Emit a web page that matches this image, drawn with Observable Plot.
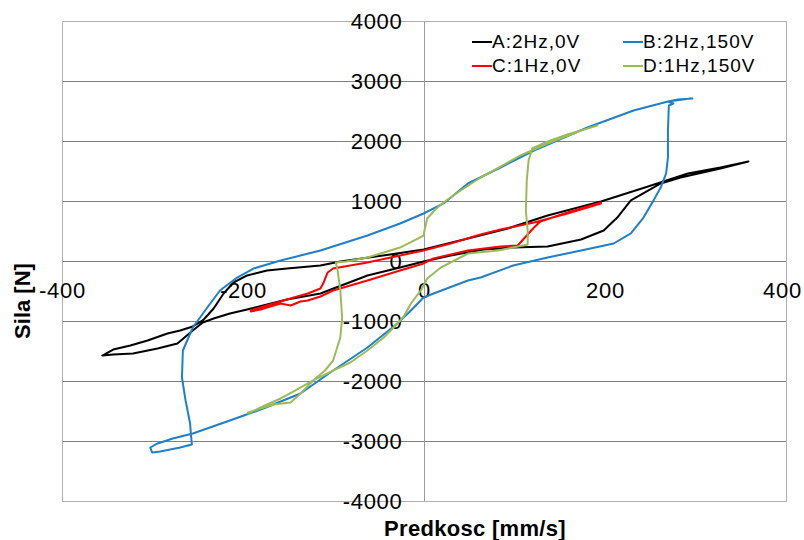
<!DOCTYPE html>
<html>
<head>
<meta charset="utf-8">
<script src="https://cdn.jsdelivr.net/npm/d3@7"></script>
<script src="https://cdn.jsdelivr.net/npm/@observablehq/plot@0.6"></script>
<style>
  html, body { margin: 0; padding: 0; background: #fff; }
  #wrap { position: relative; width: 804px; height: 540px; font-family: "Liberation Sans", Arial, sans-serif; }
  #wrap svg { position: absolute; left: 0; top: 0; }
  .ytitle { position: absolute; left: 23px; top: 301px; transform: translate(-50%, -50%) rotate(-90deg); font-weight: bold; font-size: 22px; white-space: nowrap; color: #000; }
  .xtitle { position: absolute; left: 475px; top: 529px; transform: translate(-50%, -50%); font-weight: bold; font-size: 22px; white-space: nowrap; color: #000; letter-spacing: 0.3px; }
  .legend { position: absolute; left: 472px; top: 31px; font-size: 19px; letter-spacing: 1px; color: #000; display: grid; grid-template-columns: 151px 140px; row-gap: 2px; }
  .legend span { display: flex; align-items: center; height: 22px; white-space: nowrap; }
  .legend i { display: inline-block; width: 20px; height: 2px; margin-right: 0px; }
</style>
</head>
<body>
<div id="wrap"></div>
<script>
// Tick values
const xTicks = [-400, -200, 0, 200];
const xTickLast = [400];
const yTicks = [-4000, -3000, -2000, -1000, 0, 1000, 2000, 3000, 4000];

// Series names and colours
const seriesNames = ["A:2Hz,0V", "B:2Hz,150V", "C:1Hz,0V", "D:1Hz,150V"];
const seriesColors = ["#000000", "#1f80c8", "#ff0000", "#9bbb59"];

// A:2Hz,0V  (velocity mm/s, force N)
const aX = [-356,-344,-325,-306,-284,-270,-256,-245,-233,-222,-211,-196,-174,-152,-115,-93,-38,-1,48,92,136,195,247,291,327,358,
            327,283,261,247,228,213,198,173,136,98,65,29,-1,-27,-63,-115,-152,-174,-196,-215,-233,-245,-256,-273,-295,-322,-344,-356];
const aY = [-1567,-1467,-1400,-1317,-1200,-1150,-1083,-983,-783,-533,-350,-233,-150,-117,-67,0,117,200,383,550,767,1000,1250,1467,1567,1667,
            1550,1400,1300,1183,1017,733,517,367,250,233,200,100,0,-100,-233,-533,-633,-717,-800,-867,-950,-1017,-1150,-1367,-1450,-1533,-1550,-1567];

// B:2Hz,150V
const bX = [296,280,269,275,270,269,269,267,261,253,242,228,209,173,136,98,62,48,10,-1,-15,-30,-63,-101,-137,-178,-215,-256,-278,-295,-303,-301,-292,-270,-257,
            -258,-259,-264,-268,-267,-256,-240,-226,-207,-189,-159,-115,-63,-27,-1,21,48,84,121,180,231,269,294];
const bY = [2717,2700,2667,2633,2600,2183,1733,1467,1233,1017,733,467,300,183,67,-67,-267,-317,-533,-600,-817,-1033,-1433,-1817,-2200,-2450,-2650,-2867,-2950,-3033,-3100,-3183,-3167,-3100,-3050,
            -2900,-2700,-2317,-1933,-1483,-1100,-767,-483,-267,-117,17,183,433,633,800,967,1300,1567,1850,2233,2517,2667,2717];

// C:1Hz,0V
const cX = [-192,-181,-174,-159,-148,-137,-129,-115,-101,-82,-63,-27,-1,10,48,84,103,110,121,128,158,195,
            195,158,121,84,62,29,-1,-27,-63,-101,-107,-112,-115,-129,-152,-174,-192];
const cY = [-833,-800,-767,-700,-733,-667,-650,-583,-483,-400,-317,-150,-33,50,183,250,267,383,567,667,817,983,
            967,800,650,533,450,300,183,100,-17,-117,-183,-367,-450,-533,-633,-733,-817];

// D:1Hz,150V
const dX = [-195,-181,-174,-159,-145,-123,-101,-82,-63,-45,-34,-23,-15,-10,-4,3,18,48,81,98,114,
            114,112,113,115,119,136,158,191,
            173,136,106,84,62,40,24,13,3,0,-1,-27,-63,-87,-98,-96,-93,-91,-93,-101,-110,-123,-137,-148,-167,-181,-195];
const dY = [-2533,-2433,-2383,-2283,-2167,-1983,-1817,-1683,-1483,-1267,-1100,-917,-700,-600,-483,-283,-100,133,183,233,283,
            517,850,1350,1683,1883,2000,2117,2267,
            2183,1967,1767,1583,1400,1183,1017,883,717,517,433,233,67,0,-17,-150,-483,-933,-1267,-1650,-1817,-1983,-2200,-2350,-2383,-2450,-2517];

const allX = [aX, bX, cX, dX];
const allY = [aY, bY, cY, dY];
const rows = [];
allX.forEach((xs, s) => xs.forEach((x, i) => rows.push({series: seriesNames[s], x, y: allY[s][i]})));

const chart = Plot.plot({
  width: 804,
  height: 540,
  marginLeft: 62,
  marginRight: 18,
  marginTop: 21,
  marginBottom: 39,
  style: {fontFamily: "'Liberation Sans', Arial, sans-serif", letterSpacing: "0.7px", background: "#fff", overflow: "visible"},
  x: {domain: [-400, 400], axis: null},
  y: {domain: [-4000, 4000], axis: null},
  color: {domain: seriesNames, range: seriesColors},
  marks: [
    Plot.ruleY(yTicks, {stroke: "#808080", strokeWidth: 1}),
    Plot.ruleX([0], {stroke: "#9a9a9a", strokeWidth: 1}),
    Plot.frame({stroke: "#b0b0b0"}),
    Plot.text(yTicks, {x: 0, y: d => d, text: d => String(d), textAnchor: "end", dx: -22, fontSize: 22, fill: "#000"}),
    Plot.text(xTicks, {x: d => d, y: 0, text: d => String(d), dy: 29, fontSize: 22, fill: "#000"}),
    Plot.text(xTickLast, {x: d => d, y: 0, text: d => String(d), dy: 29, dx: -4, fontSize: 22, fill: "#000"}),
    Plot.line(rows, {x: "x", y: "y", z: "series", stroke: "series", strokeWidth: 2, strokeLinejoin: "round", strokeLinecap: "round"})
  ]
});

const wrap = document.getElementById("wrap");
wrap.appendChild(chart);

const yt = document.createElement("div");
yt.className = "ytitle";
yt.textContent = "Sila [N]";
wrap.appendChild(yt);

const xt = document.createElement("div");
xt.className = "xtitle";
xt.textContent = "Predkosc [mm/s]";
wrap.appendChild(xt);

const lg = document.createElement("div");
lg.className = "legend";
seriesNames.forEach((n, i) => {
  const s = document.createElement("span");
  const sw = document.createElement("i");
  sw.style.background = seriesColors[i];
  s.appendChild(sw);
  s.appendChild(document.createTextNode(n));
  lg.appendChild(s);
});
wrap.appendChild(lg);
</script>
</body>
</html>
